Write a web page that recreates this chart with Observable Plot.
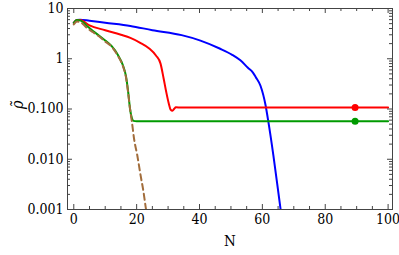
<!DOCTYPE html>
<html><head><meta charset="utf-8">
<script src="https://cdn.jsdelivr.net/npm/d3@7"></script>
<script src="https://cdn.jsdelivr.net/npm/@observablehq/plot@0.6"></script>
<style>body{margin:0;background:#fff} svg text{font-stretch:condensed;}</style>
</head><body><div id="chart"></div>
<script>
// Data
const blueN   = [0, 1, 2, 5, 10, 18, 25, 34.3, 40.3, 46.4, 50.4, 53, 55.4, 57, 57.9, 59.4, 61, 61.9, 63.5, 65.8, 67];
const blueV   = [5.2, 5.9, 6.0, 5.7, 5.2, 4.5, 3.7, 2.95, 2.3, 1.6, 1.2, 0.93, 0.66, 0.53, 0.43, 0.29, 0.12, 0.056, 0.012, 0.001, 0.0003];
const redN    = [0, 1, 2, 5, 10, 15, 18, 21, 24, 26.2, 27.6, 28.6, 29.4, 30.2, 30.8, 31.4, 31.9, 32.5, 34.3, 100];
const redV    = [5.2, 5.9, 5.9, 4.6, 3.7, 3.0, 2.6, 2.1, 1.6, 1.15, 0.8, 0.4, 0.22, 0.13, 0.097, 0.092, 0.1, 0.108, 0.107, 0.107];
const greenN  = [0, 1, 2, 4, 6, 8, 10, 12, 14, 15.6, 16.6, 17.3, 17.9, 18.5, 19, 20, 100];
const greenV  = [5.2, 5.9, 5.8, 4.6, 3.6, 2.9, 2.3, 1.8, 1.2, 0.75, 0.45, 0.22, 0.1, 0.065, 0.058, 0.057, 0.057];
const brownN  = [0, 1, 2, 4, 6, 8, 10, 12, 14, 15.6, 16.6, 17.3, 17.9, 18.5, 19.2, 20.2, 21.2, 22.2, 22.8, 23.7];
const brownV  = [4.8, 5.5, 5.4, 4.2, 3.4, 2.8, 2.2, 1.75, 1.15, 0.72, 0.43, 0.21, 0.1, 0.055, 0.025, 0.012, 0.005, 0.0022, 0.0012, 0.0005];
const dotN    = [89.5, 89.5];
const dotV    = [0.107, 0.057];
const dotColors = ["#ff0000", "#009a00"];

const xMajor = [0, 20, 40, 60, 80, 100];
const xMinor = [5, 10, 15, 25, 30, 35, 45, 50, 55, 65, 70, 75, 85, 90, 95];
const yMajor = [0.001, 0.01, 0.1, 1, 10];
const yMinor = [];
for (const dec of [0.001, 0.01, 0.1, 1]) for (let k = 2; k <= 9; k++) yMinor.push(+(dec * k).toPrecision(3));
const yLabels = ["0.001", "0.010", "0.100", "1", "10"];

const toPts = (N, V) => N.map((n, i) => ({n, v: V[i]}));
const W = 399, H = 255, mL = 67, mR = 7, mT = 8, mB = 46;
const fw = W - mL - mR, fh = H - mT - mB;
const axisCol = "#444";
const serif = "'DejaVu Serif Condensed', 'DejaVu Serif', serif";

const chart = Plot.plot({
  width: W, height: H,
  marginLeft: mL, marginRight: mR, marginTop: mT, marginBottom: mB,
  style: {fontFamily: serif, fontSize: "14px", color: "black", background: "white", overflow: "visible"},
  x: {domain: [-2, 101.4], axis: null},
  y: {type: "log", domain: [0.001, 10], axis: null},
  marks: [
    Plot.line(toPts(blueN, blueV), {x: "n", y: "v", stroke: "#0000ff", strokeWidth: 2, curve: "monotone-x", clip: true}),
    Plot.line(toPts(redN, redV), {x: "n", y: "v", stroke: "#ff0000", strokeWidth: 2, curve: "monotone-x", clip: true}),
    Plot.line(toPts(greenN, greenV), {x: "n", y: "v", stroke: "#009a00", strokeWidth: 2, curve: "monotone-x", clip: true}),
    Plot.line(toPts(brownN, brownV), {x: "n", y: "v", stroke: "#a26d3c", strokeWidth: 2, strokeDasharray: "6,4", curve: "monotone-x", clip: true}),
    Plot.dot(dotN.map((n, i) => ({n, v: dotV[i], c: dotColors[i]})), {x: "n", y: "v", fill: d => d.c, r: 3.5}),
    Plot.tickX(xMajor, {x: d => d, insetTop: fh - 5, stroke: axisCol}),
    Plot.tickX(xMajor, {x: d => d, insetBottom: fh - 5, stroke: axisCol}),
    Plot.tickX(xMinor, {x: d => d, insetTop: fh - 3, stroke: axisCol}),
    Plot.tickX(xMinor, {x: d => d, insetBottom: fh - 3, stroke: axisCol}),
    Plot.tickY(yMajor, {y: d => d, insetRight: fw - 5, stroke: axisCol}),
    Plot.tickY(yMajor, {y: d => d, insetLeft: fw - 5, stroke: axisCol}),
    Plot.tickY(yMinor, {y: d => d, insetRight: fw - 3, stroke: axisCol}),
    Plot.tickY(yMinor, {y: d => d, insetLeft: fw - 3, stroke: axisCol}),
    Plot.frame({stroke: axisCol, strokeWidth: 1}),
    Plot.axisX(xMajor, {tickSize: 0, tickPadding: 5, label: null, fill: "black", fontFamily: serif, fontSize: 14}),
    Plot.axisY(yMajor, {tickSize: 0, tickPadding: 4, label: null, fill: "black", fontFamily: serif, fontSize: 14, tickFormat: d => yLabels[yMajor.indexOf(d)]}),
    Plot.text(["N"], {frameAnchor: "bottom", dy: 36, fill: "black", fontSize: 15, fontFamily: serif}),
    Plot.text(["ρ\u0303"], {frameAnchor: "left", dx: -50, rotate: -90, fill: "black", fontSize: 16, fontStyle: "italic", fontFamily: serif})
  ]
});
document.getElementById("chart").appendChild(chart);
</script>
</body></html>
